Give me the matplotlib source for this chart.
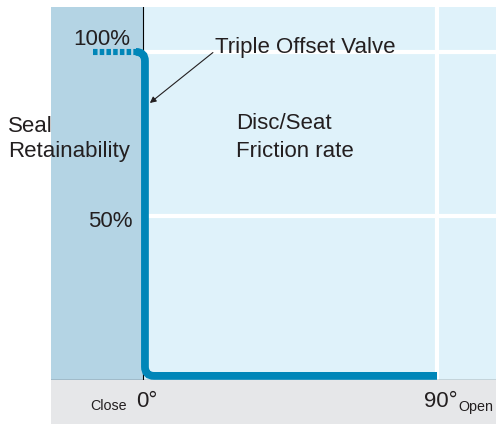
import numpy as np
import matplotlib
matplotlib.use("Agg")
import matplotlib.pyplot as plt
from matplotlib.path import Path
from matplotlib.patches import PathPatch, Rectangle

plt.rcParams["font.family"] = ["Liberation Sans", "DejaVu Sans"]

# curve: valve angle (deg) vs seal retainability (%)
angle = [0.6, 0.6, 90.0]
retain = [100.0, 1.1, 1.1]
# dotted lead-in before closing
lead_angle = [-15.3, -1.8]
lead_retain = [100.0, 100.0]

y_ticks = [50, 100]
y_tick_labels = ["50%", "100%"]
x_ticks = [0, 90]
x_tick_labels = ["0°", "90°"]

DARK = "#b4d4e4"
LIGHT = "#dff2fa"
GREY = "#e6e7e9"
BLUE = "#0086b8"
INK = "#231f20"

XMIN, XMAX = -28.16, 108.06
YMIN, YMAX = 0.0, 113.7

fig = plt.figure(figsize=(4.96, 4.24), dpi=100)
ax = fig.add_axes([51 / 496, 44.5 / 424, 445 / 496, 372.5 / 424])
ax.set_xlim(XMIN, XMAX)
ax.set_ylim(YMIN, YMAX)
ax.set_facecolor(LIGHT)
for s in ax.spines.values():
    s.set_visible(False)
ax.set_xticks([])
ax.set_yticks([])

# closed-side band and grey strip under the axis
ax.axvspan(XMIN, 0, color=DARK, lw=0, zorder=0)
ax.add_patch(Rectangle((XMIN, -13.6), XMAX - XMIN, 13.6, facecolor=GREY,
                       edgecolor="none", clip_on=False, zorder=0))

# white grid in the open region
for yv in y_ticks:
    ax.plot([0, XMAX], [yv, yv], color="white", lw=3, zorder=1, solid_capstyle="butt")
ax.plot([90, 90], [0, YMAX], color="white", lw=3, zorder=1, solid_capstyle="butt")

ax.axhline(0, color="#58595b", lw=1, zorder=2)
ax.axvline(0, color="black", lw=0.8, zorder=2)

# main curve with rounded corners
r = 2.8
x0, ytop = angle[0], retain[0]
ybot, xend = retain[1], angle[2]
verts = [(x0 - r, ytop), (x0, ytop), (x0, ytop - r),
         (x0, ybot + r), (x0, ybot), (x0 + r, ybot),
         (xend, ybot)]
codes = [Path.MOVETO, Path.CURVE3, Path.CURVE3,
         Path.LINETO, Path.CURVE3, Path.CURVE3,
         Path.LINETO]
ax.add_patch(PathPatch(Path(verts, codes), facecolor="none", edgecolor=BLUE,
                       lw=5.6, capstyle="butt", zorder=3))
ax.plot(lead_angle, lead_retain, color=BLUE, lw=4.4, zorder=3,
        linestyle=(0, (0.74, 0.36)), dash_capstyle="butt")

txt = dict(color=INK, fontsize=16, va="baseline", clip_on=False, zorder=5)
for yv, lab, xr, yb in zip(y_ticks, y_tick_labels, [-3.06, -4.0], [46.6, 102.1]):
    ax.text(xr, yb, lab, ha="right", **txt)
for xv, lab, xl in zip(x_ticks, x_tick_labels, [-2.1, 86.0]):
    ax.text(xl, -8.4, lab, ha="left", **txt)

small = dict(txt, fontsize=10.3)
ax.text(-4.9, -9.3, "Close", ha="right", **small)
ax.text(96.4, -9.6, "Open", ha="left", **small)

ax.text(-41.3, 75.6, "Seal", ha="left", **txt)
ax.text(-41.3, 67.9, "Retainability", ha="left", **txt)
ax.text(28.6, 76.5, "Disc/Seat", ha="left", **txt)
ax.text(28.6, 67.9, "Friction rate", ha="left", **txt)

ax.text(22.0, 99.7, "Triple Offset Valve", ha="left", **txt)
ax.annotate("", xy=(2.1, 84.4), xytext=(21.4, 99.8),
            arrowprops=dict(arrowstyle="-|>", color=INK, lw=0.8,
                            mutation_scale=9, shrinkA=0, shrinkB=0),
            zorder=5)

fig.savefig("out.png", dpi=100)
